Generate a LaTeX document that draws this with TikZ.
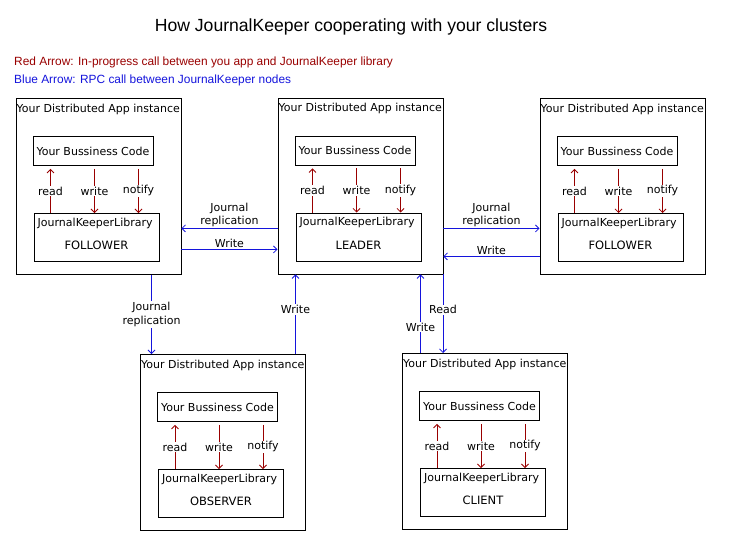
\documentclass[tikz,border=0pt]{standalone}
\usepackage{fontspec}
\setmainfont{DejaVu Sans}
\newfontfamily\headfont{Liberation Sans}
\usetikzlibrary{positioning,arrows.meta}
\definecolor{callred}{RGB}{153,0,0}
\definecolor{rpcblue}{RGB}{20,20,220}

\begin{document}
\begin{tikzpicture}[x=1pt,y=-1pt,font=\fontsize{11}{13.5}\selectfont,
app/.style={draw, line width=0.9pt, minimum width=165pt, minimum height=176pt, anchor=north west, inner sep=0pt},
code/.style={draw, line width=0.9pt, minimum width=120pt, minimum height=29pt, inner sep=0pt},
lib/.style={draw, line width=0.9pt, minimum width=125pt, minimum height=48pt, inner sep=0pt},
lbl/.style={fill=white, inner sep=1pt, align=center},
call/.style={draw=callred, line width=0.8pt},
rpc/.style={draw=rpcblue, line width=0.8pt},
>={Straight Barb[length=3.5pt,width=7pt]}]
\useasboundingbox (0,0) rectangle (739,557);
\node[font=\headfont\fontsize{17.6}{20}\selectfont] (title) at (351,27) {How JournalKeeper cooperating with your clusters};
\node[anchor=west, inner sep=0pt, text=callred, font=\headfont\fontsize{11.9}{14}\selectfont] (key-red) at (14,62) {Red Arrow: In-progress call between you app and JournalKeeper library};
\node[anchor=west, inner sep=0pt, text=rpcblue, font=\headfont\fontsize{11.9}{14}\selectfont] (key-blue) at (14,80) {Blue Arrow: RPC call between JournalKeeper nodes};
\foreach \n/\x/\y/\r in {fa/15.5/98/FOLLOWER, ld/277.5/97.5/LEADER, fb/539.5/98/FOLLOWER, ob/140/354/OBSERVER, cl/402/353/CLIENT} {
  \node[app] (\n) at (\x,\y) {};
  \node[anchor=west, inner sep=1pt] (\n-head) at ([yshift=-11pt]\n.north west) {Your Distributed App instance};
  \node[code, below right=38pt and 17pt of \n.north west] (\n-code) {Your Bussiness Code};
  \node[lib, below right=115pt and 18pt of \n.north west] (\n-lib) {};
  \node[anchor=west, inner sep=1pt] (\n-name) at ([xshift=3pt,yshift=-10pt]\n-lib.north west) {JournalKeeperLibrary};
  \node[font=\fontsize{11.5}{13}\selectfont] (\n-role) at ([yshift=-8pt]\n-lib.center) {\r};
  \foreach \dx/\t/\dir in {18/read/<-, 62/write/->, 106/notify/->}
    \draw[call,\dir] ([xshift=\dx pt,yshift=-3pt]\n-code.south west) -- node[lbl]{\t} ([xshift=\dx pt]\n-code.south west |- \n-lib.north);
}
\draw[rpc,<-] ([yshift=-42pt]fa.east) -- node[above, inner sep=1pt, align=center]{Journal\\replication} ([yshift=-42pt]fa.east -| ld.west);
\draw[rpc,->] ([yshift=-63pt]fa.east) -- node[above, inner sep=1pt]{Write} ([yshift=-63pt]fa.east -| ld.west);
\draw[rpc,->] ([yshift=-42.5pt]ld.east) -- node[above, inner sep=1pt, align=center]{Journal\\replication} ([yshift=-42.5pt]ld.east -| fb.west);
\draw[rpc,<-] ([yshift=-70.5pt]ld.east) -- node[above, inner sep=1pt]{Write} ([yshift=-70.5pt]ld.east -| fb.west);
\draw[rpc,->] ([xshift=136pt]fa.south west) -- node[lbl]{Journal\\replication} ([xshift=136pt]fa.south west |- ob.north);
\draw[rpc,->] ([xshift=155.5pt]ob.north west) -- node[lbl, pos=0.56]{Write} ([xshift=155.5pt]ob.north west |- ld.south);
\draw[rpc,->] ([xshift=18.5pt]cl.north west) -- node[lbl, pos=0.33]{Write} ([xshift=18.5pt]cl.north west |- ld.south);
\draw[rpc,<-] ([xshift=41pt]cl.north west) -- node[lbl, pos=0.55]{Read} ([xshift=41pt]cl.north west |- ld.south);
\end{tikzpicture}
\end{document}
